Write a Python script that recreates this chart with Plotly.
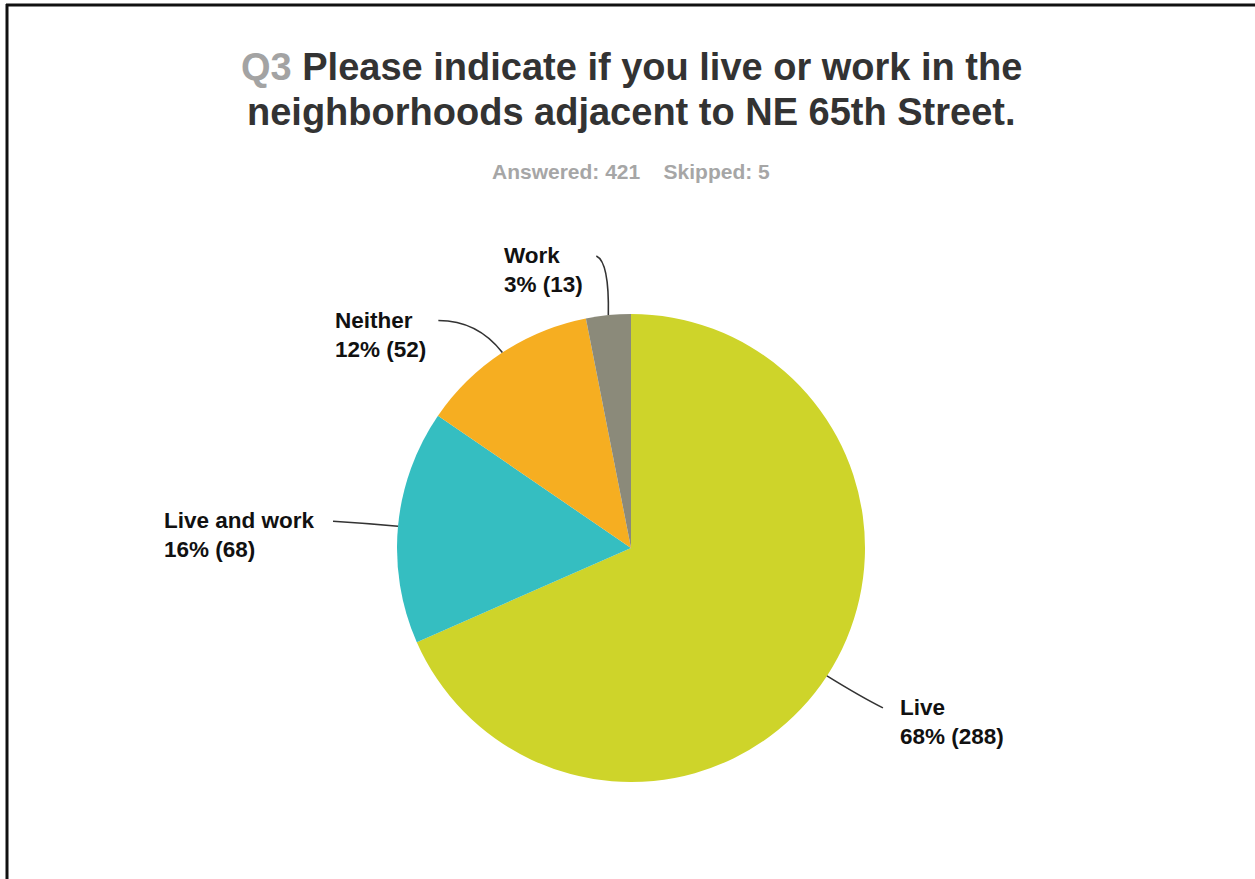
import math
import plotly.graph_objects as go

W, H = 1255, 879

# Survey results
categories = ["Live", "Live and work", "Neither", "Work"]
counts = [288, 68, 52, 13]
colors = ["#CED42A", "#35BEC1", "#F6AE21", "#8B8A7A"]
answered = 421
skipped = 5

question_no = "Q3"
question_lines = ["Please indicate if you live or work in the",
                  "neighborhoods adjacent to NE 65th Street."]

# Pie placement (pixels)
CX, CY, R = 631, 548, 234

# Leader-line layout per slice: end offset and control offset from the slice edge
# point, which side the label sits on, and the gap between line end and text.
leaders = {
    "Live":          dict(end=(56, 32),   ctrl=(34, 21),  side="right", gap=15),
    "Live and work": dict(end=(-65, -5),  ctrl=(-32, -3), side="left",  gap=16),
    "Neither":       dict(end=(-64, -32), ctrl=(-25, -32), side="left", gap=10),
    "Work":          dict(end=(-12, -59), ctrl=(1, -53),  side="left",  gap=11),
}

FONT = "Liberation Sans, Arial, sans-serif"
LABEL_FONT = dict(family=FONT, size=22.5, color="#111111")
LINE_H = 28


def px(x):
    return x / W


def py(y):
    return 1 - y / H


total = sum(counts)

fig = go.Figure(go.Pie(
    labels=categories,
    values=counts,
    marker=dict(colors=colors, line=dict(width=0)),
    sort=False,
    direction="clockwise",
    rotation=0,
    textinfo="none",
    hoverinfo="label+percent+value",
    domain=dict(x=[px(CX - R), px(CX + R)], y=[py(CY + R), py(CY - R)]),
    showlegend=False,
))

shapes = []
annotations = []

cum = 0
for name, c in zip(categories, counts):
    theta = 2 * math.pi * (cum + c / 2) / total
    cum += c
    ex = CX + R * math.sin(theta)
    ey = CY - R * math.cos(theta)
    cfg = leaders[name]
    qx, qy = ex + cfg["ctrl"][0], ey + cfg["ctrl"][1]
    tx, ty = ex + cfg["end"][0], ey + cfg["end"][1]
    shapes.append(dict(
        type="path", xref="paper", yref="paper",
        path=f"M {px(ex)},{py(ey)} Q {px(qx)},{py(qy)} {px(tx)},{py(ty)}",
        line=dict(color="#333333", width=1.6),
    ))
    pct = round(100 * c / total)
    if cfg["side"] == "left":
        ax, anchor = tx - cfg["gap"], "right"
    else:
        ax, anchor = tx + cfg["gap"], "left"
    annotations.append(dict(
        xref="paper", yref="paper",
        x=px(ax), y=py(ty + LINE_H / 2),
        xanchor=anchor, yanchor="middle", align="left",
        text=f"<b>{name}</b><br><b>{pct}% ({c})</b>",
        showarrow=False, font=LABEL_FONT,
    ))

# Title, one annotation per line
title_texts = [f"<b><span style='color:#A3A3A3'>{question_no}</span> {question_lines[0]}</b>",
               f"<b>{question_lines[1]}</b>"]
for t, yc in zip(title_texts, [67, 112]):
    annotations.append(dict(
        xref="paper", yref="paper", x=px(631), y=py(yc),
        xanchor="center", yanchor="middle",
        text=t, showarrow=False,
        font=dict(family=FONT, size=38, color="#333333"),
    ))

# Response counts
annotations.append(dict(
    xref="paper", yref="paper", x=px(631), y=py(172),
    xanchor="center", yanchor="middle",
    text=f"<b>Answered: {answered}\u00a0\u00a0\u00a0\u00a0Skipped: {skipped}</b>",
    showarrow=False,
    font=dict(family=FONT, size=21, color="#A6A6A6"),
))

# Frame lines along the top and left edges
shapes.append(dict(type="line", xref="paper", yref="paper",
                   x0=px(6), y0=py(5), x1=1, y1=py(5),
                   line=dict(color="#111111", width=3)))
shapes.append(dict(type="line", xref="paper", yref="paper",
                   x0=px(7), y0=py(4), x1=px(7), y1=0,
                   line=dict(color="#111111", width=3)))

fig.update_layout(
    width=W, height=H,
    margin=dict(l=0, r=0, t=0, b=0),
    paper_bgcolor="white", plot_bgcolor="white",
    shapes=shapes, annotations=annotations,
)

fig.write_html("out.html")
